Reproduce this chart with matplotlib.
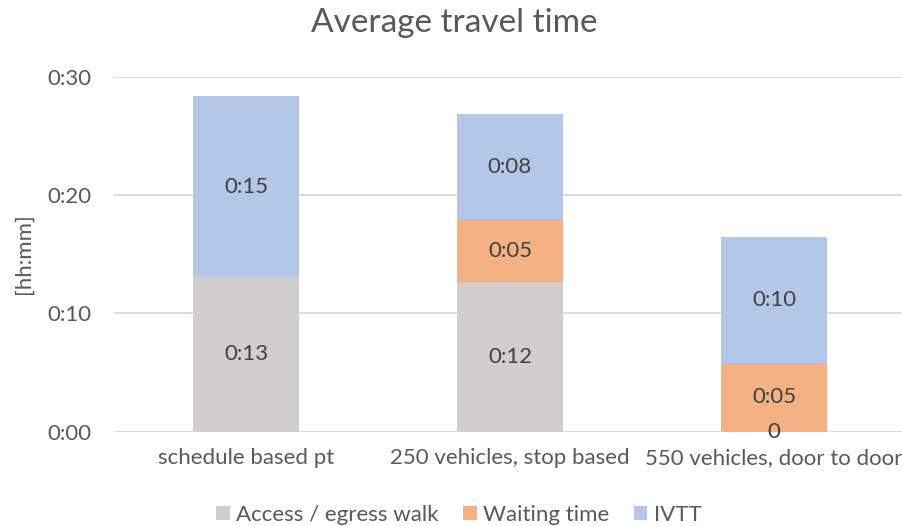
import math
import numpy as np
import matplotlib
matplotlib.use("Agg")
import matplotlib.pyplot as plt
from matplotlib.patches import Patch

plt.rcParams['font.family'] = ['Lato', 'DejaVu Sans']

categories = ["schedule based pt", "250 vehicles, stop based", "550 vehicles, door to door"]
# travel time components in minutes (np.nan = no value)
access_walk = [13.05, 12.66, 0.0]
waiting_time = [np.nan, 5.28, 5.79]
ivtt = [15.30, 8.90, 10.68]
series_names = ["Access / egress walk", "Waiting time", "IVTT"]
y_ticks = [0, 10, 20, 30]

colors = ["#D0CECE", "#F4B183", "#B4C7E7"]
axis_text = "#595959"
label_text = "#404040"
fs = 16


def hhmm(minutes):
    m = int(math.floor(minutes + 1e-9))
    return f"{m // 60}:{m % 60:02d}"


fig = plt.figure(figsize=(9.02, 5.26), dpi=100)
ax = fig.add_axes([114 / 902, 1 - 431.5 / 526, 792 / 902, (431.5 - 76.7) / 526])

x = np.arange(len(categories))
width = 0.4
bottom = np.zeros(len(categories))
for name, vals, col in zip(series_names, [access_walk, waiting_time, ivtt], colors):
    v = np.array(vals, dtype=float)
    h = np.nan_to_num(v)
    ax.bar(x, h, width, bottom=bottom, color=col, edgecolor='none', zorder=2, label=name)
    for xi, val, b in zip(x, v, bottom):
        if np.isnan(val):
            continue
        txt = "0" if val == 0 else hhmm(val)
        ax.text(xi, b + val / 2, txt, ha='center', va='center', fontsize=fs,
                color=label_text, zorder=3)
    bottom += h

ax.set_xlim(-0.5, 2.5)
ax.set_ylim(0, 30)
ax.set_yticks(y_ticks)
ax.set_yticklabels([hhmm(t) for t in y_ticks])
ax.set_xticks(x)
ax.set_xticklabels(categories)
ax.tick_params(axis='both', length=0, labelsize=fs, colors=axis_text)
ax.tick_params(axis='y', pad=16)
ax.tick_params(axis='x', pad=12)
ax.grid(axis='y', color='#D9D9D9', linewidth=1.3, zorder=0)
for s in ax.spines.values():
    s.set_visible(False)

ax.set_ylabel("[hh:mm]", fontsize=fs, color=axis_text, labelpad=10)
fig.text(454 / 902, 1 - 23 / 526, "Average travel time", ha='center', va='center',
         fontsize=24, color=axis_text)

handles = [Patch(facecolor=c, edgecolor='none') for c in colors]
fig.legend(handles, series_names, loc='center', bbox_to_anchor=(459 / 902, 1 - 515 / 526),
           ncol=3, frameon=False, fontsize=fs, labelcolor=axis_text,
           handlelength=0.6, handleheight=0.6, handletextpad=0.3, columnspacing=1.1)

fig.savefig("out.png", dpi=100)
